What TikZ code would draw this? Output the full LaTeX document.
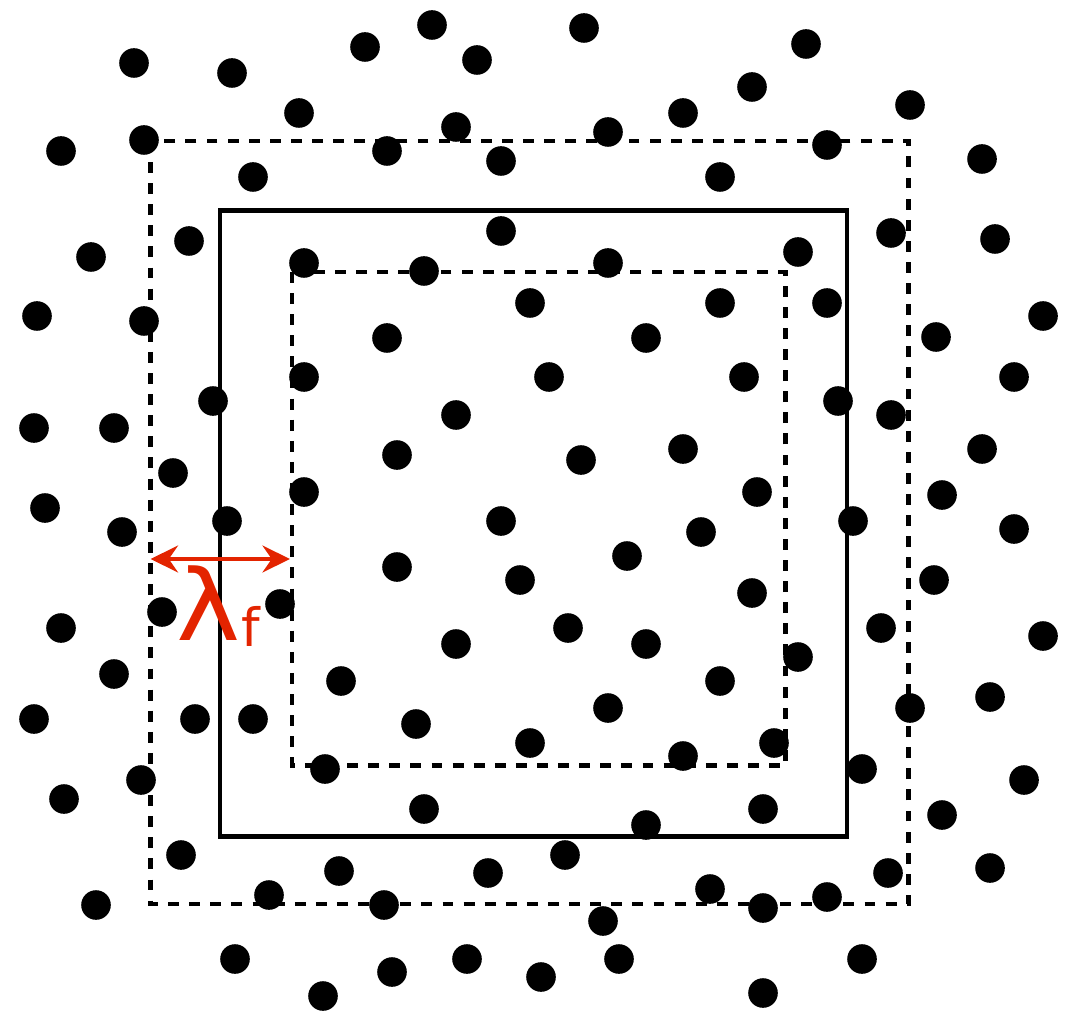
\documentclass[tikz,border=0pt]{standalone}
\usepackage{fontspec}
\usepackage{tikz}
\usetikzlibrary{arrows.meta}
\newfontfamily\lamfont{DejaVu Sans}
\definecolor{lamred}{RGB}{227,36,0}

\begin{document}
\begin{tikzpicture}[x=0.01cm, y=-0.01cm, >={Stealth[length=7.8pt, width=7.6pt, inset=2.6pt]},
    boxline/.style={line width=1.4pt, line cap=butt},
    dashbox/.style={boxline, dash pattern=on 3.1pt off 2.9pt},
    particle/.style={fill=black}]
        \useasboundingbox (0,0) rectangle (1074,1013);

        % Hộp ngoài (nét đứt), hộp chính, hộp trong (nét đứt)
        \draw[dashbox] (150.5,141) rectangle (908.5,904);
        \draw[boxline] (220,210.5) rectangle (847,836.5);
        \draw[dashbox] (292,272) rectangle (785.5,765.5);

        % Các hạt
        \foreach \px/\py in {134/63, 232/73, 365/47, 432/25, 477/60, 584/28, 806/44, 752/87,
            683/113, 910/105, 299/113, 456/127, 608/132, 61/151, 144/140, 387/151, 501/161,
            827/145, 982/159, 253/177, 720/177, 91/257, 189/241, 501/231, 798/252, 891/233,
            995/239, 304/263, 424/271, 608/263, 530/303, 720/303, 827/303, 37/316, 144/321,
            387/338, 646/338, 936/337, 1043/316, 304/377, 549/377, 744/377, 1014/377, 213/401,
            838/401, 891/415, 34/428, 114/428, 456/415, 397/455, 581/460, 683/449, 982/449,
            173/473, 304/492, 757/492, 942/495, 45/508, 122/532, 227/521, 501/521, 701/532,
            853/521, 1014/529, 397/567, 520/580, 627/556, 934/580, 752/593, 162/612, 280/604,
            61/628, 568/628, 456/644, 646/644, 881/628, 1043/636, 114/674, 341/681, 720/681,
            798/657, 34/719, 195/719, 253/719, 416/724, 608/708, 910/708, 990/697, 530/743,
            683/756, 774/743, 325/769, 141/780, 64/799, 862/769, 1024/780, 424/809, 646/825,
            763/809, 942/815, 181/855, 339/871, 488/873, 565/855, 888/873, 990/868, 96/905,
            269/895, 384/905, 603/921, 710/889, 763/908, 827/897, 235/959, 323/996, 392/972,
            467/959, 541/977, 619/959, 763/993, 862/959}
            \fill[particle] (\px,\py) circle (14.8);

        % Khoảng cách lambda_f giữa hai hộp nét đứt
        \coordinate (lamL) at (150.5,559);
        \coordinate (lamR) at (290,559);
        \draw[<->, lamred, line width=1.2pt] (lamL) -- (lamR);
        \node[lamred, font=\lamfont\fontsize{28}{28}\selectfont, inner sep=0pt, anchor=base, xscale=1.1] (lam) at (209,640) {λ};
        \node[lamred, font=\lamfont\fontsize{15}{15}\selectfont, inner sep=0pt, anchor=base] (lamsub) at (251,646) {f};
    \end{tikzpicture}
\end{document}
